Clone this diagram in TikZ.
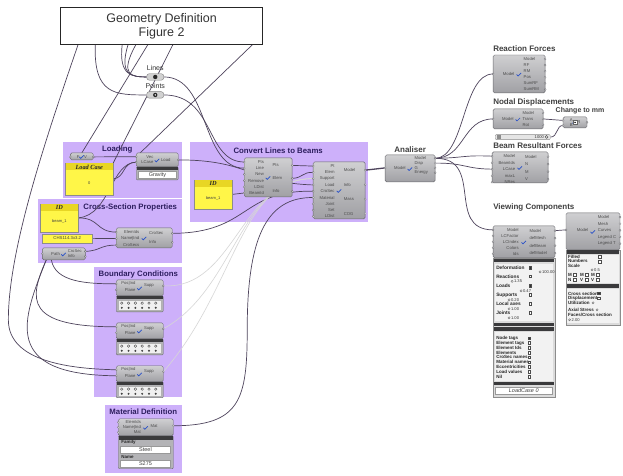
\documentclass[tikz,border=0pt]{standalone}
\usepackage{fontspec}
\setmainfont{Liberation Sans}
\newfontfamily\headfont{Liberation Serif}
\usetikzlibrary{positioning}

\definecolor{grpfill}{RGB}{205,176,250}
\definecolor{grptext}{RGB}{45,30,95}
\definecolor{compfill}{RGB}{160,160,164}
\definecolor{compdraw}{RGB}{105,105,110}
\definecolor{panelyel}{RGB}{255,246,72}
\definecolor{panelhead}{RGB}{232,214,36}
\definecolor{wirec}{RGB}{78,68,92}
\definecolor{barc}{RGB}{58,58,60}
\definecolor{iconc}{RGB}{40,80,200}

\pgfdeclarelayer{bg}
\pgfdeclarelayer{wirelayer}
\pgfsetlayers{bg,wirelayer,main}

% name, x, y, w, h, inputs, in step, outputs, out step
\newcommand{\ghcomp}[9]{%
  \node[comp, minimum width=#4, minimum height=#5] (#1) at (#2,#3) {};
  \draw[icon] (#1.center) ++(-2.5,0.5) -- ++(1.5,1.5) -- ++(3,-3);
  \foreach \t [count=\i] in {#6} {%
    \coordinate (#1-i\i) at (#2,{#3+#7*(\i-0.5)+1});
    \node[plabel, anchor=east] (#1-li\i) at ({#2+0.42*#4},{#3+#7*(\i-0.5)+1}) {\t};
    \draw[port] (#1-i\i) circle (1);
  }
  \foreach \t [count=\i] in {#8} {%
    \coordinate (#1-o\i) at ({#2+#4},{#3+#9*(\i-0.5)+1});
    \node[plabel, anchor=west] (#1-lo\i) at ({#2+0.58*#4},{#3+#9*(\i-0.5)+1}) {\t};
    \draw[port] (#1-o\i) circle (1);
  }
}

% name, x, y, w, h, header, body
\newcommand{\ghpanel}[7]{%
  \node[ypanel, minimum width=#4, minimum height=#5] (#1) at (#2,#3) {};
  \fill[panelhead] (#2+0.4,#3+0.4) rectangle ({#2+#4-0.4},#3+7.5);
  \node[yhead] (#1-h) at ({#2+#4/2},#3+4) {#6};
  \node[ytext] (#1-t) at ({#2+#4/2},{#3+7.5+(#5-7.5)/2}) {#7};
}

\begin{document}
\begin{tikzpicture}[x=1pt, y=-1pt,
  grp/.style={fill=grpfill, draw=none, anchor=north west, inner sep=0pt},
  grptitle/.style={font=\fontsize{7.8}{9}\selectfont\bfseries, text=grptext},
  title/.style={font=\fontsize{8}{9}\selectfont\bfseries, text=black!75, anchor=west, inner sep=0pt},
  comp/.style={draw=compdraw, top color=compfill!50!white, bottom color=compfill, rounded corners=1.5pt, inner sep=0pt, outer sep=0pt, anchor=north west},
  compx/.style={draw=compdraw, fill=compfill!80!white, rounded corners=1pt, inner sep=0pt, outer sep=0pt, anchor=north west},
  icon/.style={draw=iconc, line width=0.7pt},
  plabel/.style={font=\fontsize{4.2}{4.5}\selectfont, text=black!70, inner sep=0.3pt},
  port/.style={draw=compdraw, fill=white, line width=0.3pt},
  param/.style={draw=black!50, fill=black!18, rounded corners=2.5pt, minimum width=17, minimum height=6.5, inner sep=0pt},
  plab/.style={font=\fontsize{7}{8}\selectfont, text=black!80},
  ypanel/.style={draw=black!45, fill=panelyel, inner sep=0pt, outer sep=0pt, anchor=north west},
  yhead/.style={font=\headfont\fontsize{6.3}{7}\selectfont\bfseries\itshape, text=black!85, inner sep=0pt},
  ytext/.style={font=\fontsize{4}{5}\selectfont, text=black!75, inner sep=0pt},
  bar/.style={fill=barc},
  drop/.style={draw=black!40, fill=white, inner sep=0pt, anchor=north west, font=\fontsize{5.5}{6}\selectfont, text=black!75},
  wire/.style={draw=wirec, line width=0.7pt},
  lwire/.style={draw=black!16, line width=0.6pt},
  pan/.style={font=\fontsize{4.8}{5.2}\selectfont\bfseries, text=black!85, inner sep=0pt, anchor=west},
  pan2/.style={font=\fontsize{4.5}{5}\selectfont\bfseries, text=black!85, inner sep=0pt, anchor=west},
  val/.style={font=\fontsize{4.1}{5}\selectfont, text=black!80, inner sep=0pt, anchor=west},
  chk/.style={draw=black!70, minimum size=2.7pt, inner sep=0pt}
]
\begin{pgfonlayer}{bg}
  \path[use as bounding box, fill=white] (0,0) rectangle (623,476);
  \node[grp, minimum width=120, minimum height=56] (gLoad) at (62,142) {};
  \node[grp, minimum width=178, minimum height=80] (gConv) at (190,142) {};
  \node[grp, minimum width=145, minimum height=64] (gCS) at (37,199) {};
  \node[grp, minimum width=88, minimum height=130] (gBC) at (94,267) {};
  \node[grp, minimum width=77, minimum height=68] (gMat) at (105,405) {};
  \node[grptitle] (gLoad-t) at (117,150) {Loading};
  \node[grptitle] (gConv-t) at (278,151) {Convert Lines to Beams};
  \node[grptitle] (gCS-t) at (130,208) {Cross-Section Properties};
  \node[grptitle] (gBC-t) at (138,275) {Boundary Conditions};
  \node[grptitle] (gMat-t) at (143,412) {Material Definition};
\end{pgfonlayer}

% geometry
\node[draw=black!85, fill=white, line width=0.7pt, minimum width=202, minimum height=37, anchor=north west, inner sep=0pt, align=center, font=\fontsize{12.5}{14}\selectfont, text=black!80] (geo) at (60,7) {Geometry Definition\\Figure 2};
\node[param] (lines) at (155,77) {};
\fill[black!85] (lines.center) circle (2.2);
\node[plab] (lines-l) at (155,68) {Lines};
\node[param] (points) at (155,95) {};
\fill[black!85] (points.center) circle (2.2);
\fill[white] (points.center) circle (0.8);
\node[plab] (points-l) at (155,86) {Points};

% loading
\ghcomp{unitz}{70}{153}{23}{7}{F}{6}{V}{6}
\ghpanel{lcp}{65}{163}{48}{32}{Load Case}{0}
\ghcomp{load}{136}{153}{42}{14}{Vec,LCase}{5.5}{Load}{12}
\node[compx, minimum width=42, minimum height=13] (load-x) at (136,167) {};
\fill[bar] (136.5,167.3) rectangle (177.5,170);
\node[drop, minimum width=38, minimum height=6.5] (load-d) at (138,171.5) {Gravity};

% cross-section
\ghpanel{idcs}{40}{204}{38}{28}{ID}{beam\_1}
\node[ypanel, minimum width=50, minimum height=9, font=\fontsize{4.3}{5}\selectfont, text=black!75] (chs) at (42,234) {CHS114.3x3.2};
\ghcomp{csec}{116}{228}{56}{20}{ElemIds,Name|Ind,CroSecs}{6.5}{CroSec,Info}{9}
\ghcomp{path}{42}{248}{43}{12}{Path}{10}{CroSec,Info}{5}

% convert
\ghpanel{idcv}{194}{180}{38}{29}{ID}{beam\_1}
\ghcomp{l2b}{244}{158}{48}{39}{Pts,Line,New,Remove,LDist,BeamId}{6.2}{Pts,Elem,Info}{13}
\ghcomp{asm}{313}{162}{52}{57}{Pt,Elem,Support,Load,CroSec,Material,Joint,Set,LDist}{6.3}{Model,Info,Mass,COG}{14.5}

% analysis
\node[font=\fontsize{8}{9}\selectfont\bfseries, text=black!75] (ana-t) at (410,150) {Analiser};
\ghcomp{ana}{385}{155}{50}{27}{Model}{24}{Model,Disp,G,Energy}{4.8}

% supports
\foreach \s/\y in {supA/280, supB/323, supC/366} {
  \ghcomp{\s}{116}{\y}{47}{16}{Pos|Ind,Plane}{6}{Supp}{10}
  \node[compx, minimum width=47, minimum height=16] (\s-x) at (116,\y+16) {};
  \fill[bar] (116.5,\y+16.3) rectangle (162.5,\y+19);
  \node[draw=black!30, fill=black!6, minimum width=43, minimum height=10, anchor=north west, inner sep=0pt] (\s-r) at (118,\y+20.5) {};
  \foreach \k in {0,...,5} {
    \draw[black!75, line width=0.35pt] (121.5+\k*6.8,\y+23.3) circle (1.3);
    \fill[black!75] (121.5+\k*6.8,\y+28) circle (1.1);
  }
}

% material
\ghcomp{mat}{118}{419}{55}{17}{ElemIds,Name|Ind,Mat}{5}{Mat}{12}
\node[compx, minimum width=55, minimum height=33] (mat-x) at (118,436) {};
\fill[bar] (118.5,436.3) rectangle (172.5,440);
\node[pan2] (mat-f) at (121,443) {Family};
\node[drop, minimum width=50, minimum height=7] (mat-s) at (120,446) {Steel};
\node[pan2] (mat-n) at (121,457) {Name};
\node[drop, minimum width=50, minimum height=7] (mat-m) at (120,460) {S275};

% results
\node[title] (rf-t) at (493,49) {Reaction Forces};
\ghcomp{rf}{493}{55}{52}{38}{Model}{36}{Model,RF,RM,Pos,SumRF,SumRM}{6.1}
\node[title] (nd-t) at (493,102) {Nodal Displacements};
\ghcomp{nd}{493}{109}{50}{20}{Model}{18}{Model,Trans,Rot}{6}
\node[font=\fontsize{7}{8}\selectfont\bfseries, text=black!75] (mult-t) at (580,111) {Change to mm};
\ghcomp{mult}{563}{117}{24}{11}{A,B}{5}{R}{9}
\node[draw=black!60, fill=white, minimum size=4.5pt, inner sep=0pt] (mult-ic) at (mult.center) {};
\fill[black] (mult.center) circle (0.8);
\node[draw=black!45, fill=black!10, rounded corners=1pt, minimum width=55, minimum height=5, anchor=north west, inner sep=0pt] (sld) at (495,134.5) {};
\fill[black!45] (496.5,135.3) rectangle (500.5,138.7);
\node[val, anchor=east] (sld-v) at (544,137) {1000};
\draw[black!70, line width=0.4pt] (546.5,135.5) -- (548,137) -- (546.5,138.5) -- (545,137) -- cycle;
\node[title] (brf-t) at (493,146) {Beam Resultant Forces};
\ghcomp{brf}{492}{152}{56}{31}{Model,BeamIds,LCase,maxL,NRes}{6.5}{Model,N,M,V}{7.5}

% viewing
\node[title] (view-t) at (493,208) {Viewing Components};
\ghcomp{mv}{493}{226}{62}{32}{Model,LCFactor,LCIndex,Colors,Ids}{6}{Model,defMesh,defBeam,defModel}{7.5}
\node[draw=black!45, fill=black!14, minimum width=62, minimum height=139, anchor=north west, inner sep=0pt] (mvp) at (493,258) {};
\fill[bar] (494,259) rectangle (554,262.5);
\fill[black!5] (495,264) rectangle (553,321);
\foreach \t/\yy/\vx/\vy/\v/\ck [count=\k] in {Deformation/267.5/540/272/100.00/black!80, Reactions/276.5/512/281.5/1.35/white, Loads/286/521/291/0.47/black!80, Supports/295/509/300/0.20/white, Local axes/304/509/309/1.00/white, Joints/313/509/318/1.00/white} {
  \node[pan] (mvs-\k) at (496,\yy) {\t};
  \node[chk, fill=\ck] (mvc-\k) at (530,\yy) {};
  \draw[black!60, line width=0.35pt] (\vx,\vy) circle (1.1);
  \node[val] (mvv-\k) at (\vx+1.8,\vy) {\v};
}
\fill[bar] (494,323) rectangle (554,326.5);
\fill[bar] (494,327.5) rectangle (554,331);
\fill[black!5] (495,332) rectangle (553,381);
\foreach \t/\ck [count=\k] in {Node tags/black!80, Element tags/white, Element Ids/white, Elements/white, CroSec names/white, Material names/white, Eccentricities/white, Load values/white, Nil/white} {
  \node[pan2] (mvt-\k) at (496,{333.5+4.8*\k}) {\t};
  \node[chk, fill=\ck] (mvk-\k) at (529,{333.5+4.8*\k}) {};
}
\fill[bar] (494,382) rectangle (554,385.5);
\node[drop, minimum width=57, minimum height=7.5, font=\fontsize{5.5}{6}\selectfont\itshape] (mv-lc) at (495,387) {LoadCase 0};

\ghcomp{bv}{566}{213}{54}{37}{Model}{32}{Model,Mesh,Curves,Legend C,Legend T}{6.6}
\node[draw=black!45, fill=black!14, minimum width=54, minimum height=75, anchor=north west, inner sep=0pt] (bvp) at (566,250) {};
\fill[bar] (567,250.5) rectangle (619,254);
\fill[black!5] (567,255) rectangle (619,283);
\node[pan2] (bv-f) at (568,257) {Filled};
\node[chk, fill=white] (bv-fc) at (600,256.5) {};
\node[pan2] (bv-n) at (568,261.5) {Numbers};
\node[chk, fill=white] (bv-nc) at (600,261.5) {};
\node[pan2] (bv-s) at (568,266) {Scale};
\draw[black!60, line width=0.35pt] (592,270) circle (1.1);
\node[val] (bv-sv) at (594,270) {0.5};
\foreach \t/\xx [count=\k] in {M/568, M/580, M/591} {
  \node[pan2] (bvm-\k) at (\xx,275) {\t};
  \node[chk, fill=white] (bvmc-\k) at (\xx+6.5,275) {};
}
\foreach \t/\xx [count=\k] in {N/568, V/580, V/591} {
  \node[pan2] (bvn-\k) at (\xx,280) {\t};
  \node[chk, fill=white] (bvnc-\k) at (\xx+6.5,280) {};
}
\fill[bar] (567,284.5) rectangle (619,288);
\fill[black!5] (567,289) rectangle (619,323);
\node[pan2] (bv-cs) at (568,294) {Cross section};
\node[chk, fill=black!80] (bv-csc) at (599,293.5) {};
\node[pan2] (bv-d) at (568,298.5) {Displacement};
\node[chk, fill=white] (bv-dc) at (599,298.5) {};
\node[pan2] (bv-u) at (568,303) {Utilization};
\draw[black!60, line width=0.35pt] (593,303) circle (1.1);
\node[pan2] (bv-a) at (568,310) {Axial Stress};
\draw[black!60, line width=0.35pt] (597,310) circle (1.1);
\node[pan2] (bv-fc2) at (568,315.5) {Faces/Cross section};
\draw[black!60, line width=0.35pt] (569.5,320) circle (1.1);
\node[val] (bv-fv) at (571.5,320) {2.00};

% wires
\begin{pgfonlayer}{wirelayer}
  \coordinate (g1) at (78,44);
  \coordinate (g2) at (95,44);
  \coordinate (g3) at (122,44);
  \coordinate (g4) at (128,44);
  \coordinate (g5) at (136,44);
  \coordinate (g6) at (148,44);
  \coordinate (g7) at (173,44);
  \coordinate (g8) at (253,44);
  \coordinate (pb1) at (46,260);
  \coordinate (pb2) at (51,260);
  \draw[wire] (g1) .. controls (45,140) and (8,250) .. (8,320) .. controls (8,362) and (70,369) .. (supC-i1);
  \draw[wire] (g2) .. controls (93,95) and (115,95) .. (points.west);
  \foreach \c in {g3,g4,g5}
    \draw[wire] (\c) .. controls (118,76) and (132,77) .. (lines.west);
  \draw[wire] (g6) -- (unitz.north);
  \draw[wire] (g7) -- (lcp.north east);
  \draw[wire] (g8) -- (load-i1);
  \draw[wire] (unitz-o1) -- (load-i1);
  \draw[wire] (lcp.east) .. controls (125,178) and (122,162) .. (load-i2);
  \draw[wire] (idcs.east) .. controls (110,215) and (110,163) .. (load-i2);
  \draw[wire] (idcs.east) .. controls (100,218) and (95,232) .. (csec-i1);
  \draw[wire] (chs.east) -- (csec-i2);
  \draw[wire] (path-o1) .. controls (100,251) and (100,245) .. (csec-i3);
  \draw[wire] (pb2) .. controls (55,282) and (85,284) .. (supA-i1);
  \draw[wire] (pb1) .. controls (28,300) and (25,327) .. (supB-i1);
  \draw[wire] (pb1) .. controls (22,320) and (0,375) .. (supC-i2);
  \draw[wire] (points.east) .. controls (215,95) and (205,162) .. (l2b-i1);
  \draw[wire] (lines.east) .. controls (210,77) and (200,168) .. (l2b-i2);
  \draw[wire] (idcv.east) -- (l2b-i6);
  \draw[wire] (l2b-o1) .. controls (302,165) and (303,166) .. (asm-i1);
  \draw[wire] (l2b-o2) .. controls (303,178) and (302,172) .. (asm-i2);
  \draw[wire] (load-o1) .. controls (250,160) and (250,183) .. (asm-i4);
  \draw[wire] (csec-o1) .. controls (250,233) and (240,190) .. (asm-i5);
  \draw[wire] (mat-o1) .. controls (240,426) and (247,400) .. (247,330) .. controls (247,240) and (265,197) .. (asm-i6);
  \foreach \s in {supA,supB,supC}
    \draw[lwire] (\s-o1) .. controls (235,290) and (240,178) .. (asm-i3);
  \draw[wire, line width=1.3pt] (asm-o1) -- (ana-i1);
  \draw[wire] (ana-o1) .. controls (465,158) and (462,74) .. (rf-i1);
  \draw[wire] (ana-o1) .. controls (465,158) and (462,119) .. (nd-i1);
  \draw[wire] (ana-o1) .. controls (465,158) and (462,155) .. (brf-i1);
  \draw[wire] (ana-o1) .. controls (485,158) and (445,230) .. (mv-i1);
  \draw[wire] (ana-o2) .. controls (465,163) and (465,169) .. (brf-i3);
  \draw[wire] (nd-o2) .. controls (553,119) and (553,120.5) .. (mult-i1);
  \draw[wire] (sld.east) .. controls (558,137) and (556,125.5) .. (mult-i2);
  \draw[wire] (mv-o1) -- (bv-i1);
\end{pgfonlayer}
\end{tikzpicture}
\end{document}
